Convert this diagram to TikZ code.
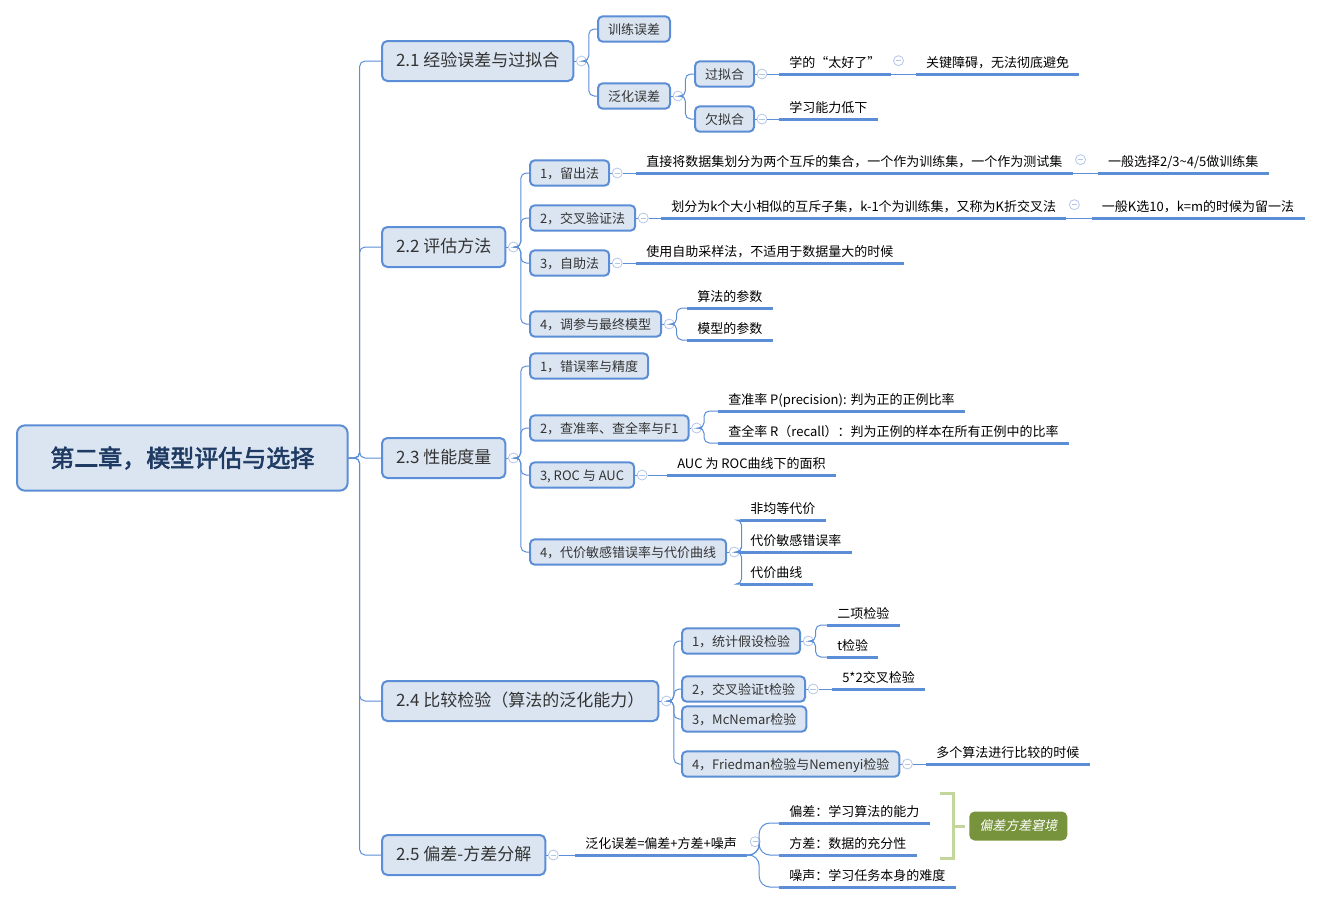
\documentclass[tikz,border=0pt]{standalone}
\usepackage{fontspec}
\setmainfont{Noto Sans CJK SC}[AutoFakeBold=2.5,AutoFakeSlant=0.2]
\usetikzlibrary{positioning,calc}
\definecolor{mapblue}{HTML}{5B8ED6}
\definecolor{boxfill}{HTML}{DBE5F1}
\definecolor{foldblue}{HTML}{B4C6E7}
\definecolor{rootink}{HTML}{1F3B64}
\definecolor{topicink}{HTML}{333333}
\definecolor{bracegreen}{HTML}{C3D69B}
\definecolor{tagolive}{HTML}{77933C}

\tikzset{
  conn/.style={draw=mapblue, line width=0.75pt, rounded corners=4pt},
  uline/.style={draw=mapblue, line width=2.25pt},
  rootbox/.style={anchor=west, draw=mapblue, line width=1.5pt, fill=boxfill, rounded corners=6pt,
    minimum width=248pt, minimum height=49pt, text=rootink, font=\fontsize{18}{20}\selectfont\bfseries},
  topic/.style={anchor=west, draw=mapblue, line width=1.5pt, fill=boxfill, rounded corners=4pt,
    minimum height=30pt, inner xsep=10.5pt, text=topicink, font=\fontsize{12.75}{15}\selectfont,
    text height=0.84em, text depth=0.08em},
  subtopic/.style={anchor=west, draw=mapblue, line width=1.5pt, fill=boxfill, rounded corners=3.5pt,
    minimum height=19pt, inner xsep=7.5pt, text=topicink, font=\fontsize{9.75}{12}\selectfont,
    text height=0.84em, text depth=0.08em},
  leaf/.style={anchor=south west, inner xsep=7.5pt, inner ysep=4pt, font=\fontsize{9.75}{12}\selectfont,
    text height=0.84em, text depth=0.08em},
  fold/.style={circle, draw=foldblue, fill=white, line width=0.6pt, minimum size=7.5pt, inner sep=0pt,
    path picture={\draw[foldblue, line width=0.6pt] ([xshift=-2pt]path picture bounding box.center)
      -- ([xshift=2pt]path picture bounding box.center);}},
  brace/.style={draw=bracegreen, line width=2.25pt},
  tag/.style={anchor=west, fill=tagolive, rounded corners=4pt, minimum width=73.5pt, minimum height=21.75pt,
    text=white, font=\fontsize{9.75}{12}\selectfont\itshape}
}

% fold button right of a topic box
\newcommand{\foldat}[2]{\node[fold] (#1) at ($(#2.east)+(7,0)$) {}; \draw[conn] (#2.east) -- (#1.west);}

\begin{document}
\begin{tikzpicture}[x=0.75pt,y=-0.75pt]
\useasboundingbox (0,0) rectangle (1332,904);

% central topic and chapters
\node[rootbox] (root) at (16,458) {第二章，模型评估与选择};
\node[topic] (s21) at (381,61) {2.1 经验误差与过拟合};
\node[topic] (s22) at (381,247) {2.2 评估方法};
\node[topic] (s23) at (381,458) {2.3 性能度量};
\node[topic] (s24) at (381,701) {2.4 比较检验（算法的泛化能力）};
\node[topic] (s25) at (381,855) {2.5 偏差-方差分解};
\foreach \s in {s21,s22,s23,s24,s25}{
  \draw[conn] (root.east) -- ++(11,0) |- (\s.west);
  \foldat{f\s}{\s}
}

% 2.1
\node[subtopic] (xl) at (597,29) {训练误差};
\node[subtopic] (fh) at (597,96) {泛化误差};
\foreach \c in {xl,fh} \draw[conn] (fs21.east) -- ++(2,0) |- (\c.west);
\foldat{ffh}{fh}
\node[subtopic] (gn) at (694,74) {过拟合};
\node[subtopic] (qn) at (694,119) {欠拟合};
\foreach \c in {gn,qn} \draw[conn] (ffh.east) -- ++(2,0) |- (\c.west);
\foldat{fgn}{gn}
\foldat{fqn}{qn}
\node[leaf] (ta) at (779,74) {学的“太好了”};
\node[fold] (fta) at ([xshift=6pt,yshift=10pt]ta.south east) {};
\node[leaf] (tb) at ([xshift=19pt]ta.south east) {关键障碍，无法彻底避免};
\node[leaf] (tc) at (779,119) {学习能力低下};
\draw[conn] (fgn.east) -- (ta.south west);
\draw[conn] (ta.south east) -- (tb.south west);
\draw[conn] (fqn.east) -- (tc.south west);

% 2.2
\node[subtopic] (m1) at (529,173) {1，留出法};
\node[subtopic] (m2) at (529,218) {2，交叉验证法};
\node[subtopic] (m3) at (529,263) {3，自助法};
\node[subtopic] (m4) at (529,324) {4，调参与最终模型};
\foreach \c in {m1,m2,m3,m4}{
  \draw[conn] (fs22.east) -- ++(2,0) |- (\c.west);
  \foldat{f\c}{\c}
}
\node[leaf] (m1a) at (636,173) {直接将数据集划分为两个互斥的集合，一个作为训练集，一个作为测试集};
\node[fold] (fm1a) at ([xshift=6pt,yshift=10pt]m1a.south east) {};
\node[leaf] (m1b) at ([xshift=19pt]m1a.south east) {一般选择2/3\textasciitilde4/5做训练集};
\node[leaf] (m2a) at (661,218) {划分为k个大小相似的互斥子集，k-1个为训练集，又称为K折交叉法};
\node[fold] (fm2a) at ([xshift=6pt,yshift=10pt]m2a.south east) {};
\node[leaf] (m2b) at ([xshift=19pt]m2a.south east) {一般K选10，k=m的时候为留一法};
\node[leaf] (m3a) at (636,263) {使用自助采样法，不适用于数据量大的时候};
\node[leaf] (m4a) at (687,308) {算法的参数};
\node[leaf] (m4b) at (687,340) {模型的参数};
\draw[conn] (fm1.east) -- (m1a.south west);
\draw[conn] (m1a.south east) -- (m1b.south west);
\draw[conn] (fm2.east) -- (m2a.south west);
\draw[conn] (m2a.south east) -- (m2b.south west);
\draw[conn] (fm3.east) -- (m3a.south west);
\foreach \c in {m4a,m4b} \draw[conn] (fm4.east) -- ++(2,0) |- (\c.south west);

% 2.3
\node[subtopic] (p1) at (529,366) {1，错误率与精度};
\node[subtopic] (p2) at (529,428) {2，查准率、查全率与F1};
\node[subtopic] (p3) at (529,475) {3, ROC 与 AUC};
\node[subtopic] (p4) at (529,552) {4，代价敏感错误率与代价曲线};
\foreach \c in {p1,p2,p3,p4} \draw[conn] (fs23.east) -- ++(2,0) |- (\c.west);
\foreach \c in {p2,p3,p4} {\foldat{f\c}{\c}}
\node[leaf] (p2a) at (718,411) {查准率 P(precision): 判为正的正例比率};
\node[leaf] (p2b) at (718,443) {查全率 R（recall）：判为正例的样本在所有正例中的比率};
\node[leaf] (p3a) at (667,475) {AUC 为 ROC曲线下的面积};
\node[leaf] (p4a) at (740,520) {非均等代价};
\node[leaf] (p4b) at (740,552) {代价敏感错误率};
\node[leaf] (p4c) at (740,584) {代价曲线};
\foreach \c in {p2a,p2b} \draw[conn] (fp2.east) -- ++(2,0) |- (\c.south west);
\draw[conn] (fp3.east) -- (p3a.south west);
\foreach \c in {p4a,p4b,p4c} \draw[conn] (fp4.east) -- ++(2,0) |- (\c.south west);

% 2.4
\node[subtopic] (q1) at (681,641) {1，统计假设检验};
\node[subtopic] (q2) at (681,689) {2，交叉验证t检验};
\node[subtopic] (q3) at (681,719) {3，McNemar检验};
\node[subtopic] (q4) at (681,764) {4，Friedman检验与Nemenyi检验};
\foreach \c in {q1,q2,q3,q4} \draw[conn] (fs24.east) -- ++(2,0) |- (\c.west);
\foreach \c in {q1,q2,q4} {\foldat{f\c}{\c}}
\node[leaf] (q1a) at (827,625) {二项检验};
\node[leaf] (q1b) at (827,657) {t检验};
\node[leaf] (q2a) at (832,689) {5*2交叉检验};
\node[leaf] (q4a) at (926,764) {多个算法进行比较的时候};
\foreach \c in {q1a,q1b} \draw[conn] (fq1.east) -- ++(2,0) |- (\c.south west);
\draw[conn] (fq2.east) -- (q2a.south west);
\draw[conn] (fq4.east) -- (q4a.south west);

% 2.5
\node[leaf] (v0) at (575,855) {泛化误差=偏差+方差+噪声};
\node[fold] (fv0) at ([xshift=6pt,yshift=10pt]v0.south east) {};
\node[leaf] (v1) at (779,823) {偏差：学习算法的能力};
\node[leaf] (v2) at (779,855) {方差：数据的充分性};
\node[leaf] (v3) at (779,887) {噪声：学习任务本身的难度};
\draw[conn] (fs25.east) -- (v0.south west);
\foreach \c in {v1,v2,v3} \draw[conn, rounded corners=8pt] (v0.south east) -- ++(12,0) |- (\c.south west);

% underlines of the plain topics
\foreach \n in {ta,tb,tc,m1a,m1b,m2a,m2b,m3a,m4a,m4b,p2a,p2b,p3a,p4a,p4b,p4c,q1a,q1b,q2a,q4a,v0,v1,v2,v3}
  \draw[uline] (\n.south west) -- (\n.south east);

% summary bracket
\node[tag] (jj) at (969,826) {偏差方差窘境};
\draw[brace] (940,793) -- (953,793) -- (953,858) -- (940,858);
\draw[brace] (953,826) -- ([xshift=-3pt]jj.west);
\end{tikzpicture}
\end{document}
